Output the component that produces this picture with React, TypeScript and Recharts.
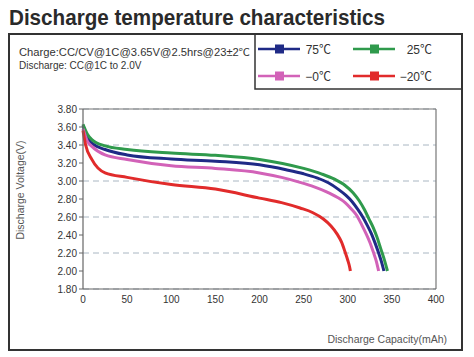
import { LineChart, Line, XAxis, YAxis, CartesianGrid, ReferenceLine } from "recharts";

// discharge capacity (mAh) / voltage (V)
const cap75 = [0, 5, 10, 25, 50, 100, 150, 200, 230, 250, 265, 278, 289, 298, 305, 311, 317, 322, 327, 331, 335, 338, 341];
const volt75 = [3.62, 3.48, 3.42, 3.35, 3.29, 3.245, 3.22, 3.18, 3.125, 3.08, 3.035, 2.98, 2.91, 2.84, 2.77, 2.69, 2.6, 2.51, 2.41, 2.31, 2.2, 2.11, 2.0];

const cap25 = [0, 5, 10, 25, 50, 100, 150, 200, 250, 270, 285, 297, 306, 313, 319, 324, 329, 333, 337, 341, 345];
const volt25 = [3.63, 3.52, 3.46, 3.39, 3.35, 3.31, 3.285, 3.24, 3.14, 3.08, 3.02, 2.95, 2.87, 2.78, 2.68, 2.58, 2.48, 2.38, 2.26, 2.14, 2.0];

const cap0 = [0, 5, 10, 25, 50, 100, 150, 200, 225, 246, 262, 276, 288, 297, 304, 310, 316, 321, 325, 329, 332, 335];
const volt0 = [3.58, 3.44, 3.385, 3.29, 3.24, 3.17, 3.14, 3.09, 3.04, 2.985, 2.935, 2.88, 2.82, 2.76, 2.69, 2.62, 2.51, 2.41, 2.32, 2.21, 2.12, 2.0];

const capM20 = [0, 3, 10, 25, 50, 100, 150, 200, 225, 246, 260, 272, 281, 288, 293, 297, 300, 302, 303];
const voltM20 = [3.56, 3.4, 3.24, 3.09, 3.04, 2.96, 2.91, 2.81, 2.76, 2.7, 2.65, 2.58, 2.5, 2.41, 2.32, 2.21, 2.12, 2.05, 2.0];

const xTicks = [0, 50, 100, 150, 200, 250, 300, 350, 400];
const yTicks = [1.8, 2.0, 2.2, 2.4, 2.6, 2.8, 3.0, 3.2, 3.4, 3.6, 3.8];

const toPoints = (c: number[], v: number[]) => c.map((x, i) => ({ cap: x, volt: v[i] }));

const series = [
  { label: "75", color: "#1f2a86", data: toPoints(cap75, volt75) },
  { label: "25", color: "#2f9a4c", data: toPoints(cap25, volt25) },
  { label: "−0", color: "#d262b8", data: toPoints(cap0, volt0) },
  { label: "−20", color: "#e12b2b", data: toPoints(capM20, voltM20) },
];

const font = "'Liberation Sans', Arial, sans-serif";
const cjk = "'Noto Sans CJK SC', sans-serif";

// legend slots inside the top-right box
const legendPos = [
  { x: 258, y: 49, end: 331 },
  { x: 353, y: 49, end: 432 },
  { x: 258, y: 76, end: 331 },
  { x: 353, y: 76, end: 432 },
];

const Celsius = () => <tspan fontFamily={cjk}>℃</tspan>;

export default function App() {
  return (
    <div style={{ position: "absolute", left: 0, top: 0, width: 474, height: 357, background: "#fff" }}>
      <LineChart
        width={474}
        height={357}
        margin={{ top: 109, right: 38, bottom: 38, left: 43 }}
        style={{ position: "absolute", left: 0, top: 0 }}
      >
        <CartesianGrid vertical={false} stroke="#a9b6c2" strokeDasharray="6 4" />
        <XAxis
          type="number"
          dataKey="cap"
          domain={[0, 400]}
          ticks={xTicks}
          allowDuplicatedCategory={false}
          height={30}
          tickLine={false}
          tickSize={4}
          tickMargin={3}
          axisLine={{ stroke: "#666", strokeWidth: 1.2 }}
          tick={{ fontSize: 10, fill: "#333", fontFamily: font }}
        />
        <YAxis
          type="number"
          dataKey="volt"
          domain={[1.8, 3.8]}
          ticks={yTicks}
          width={40}
          tickSize={4}
          tickLine={{ stroke: "#666" }}
          axisLine={{ stroke: "#666", strokeWidth: 1.2 }}
          tickFormatter={(v: number) => v.toFixed(2)}
          tick={{ fontSize: 10, fill: "#333", fontFamily: font }}
        />
        <ReferenceLine y={3.8} stroke="#777" strokeWidth={1.2} />
        <ReferenceLine x={400} stroke="#777" strokeWidth={1.2} />
        {series.map((s) => (
          <Line
            key={s.label}
            data={s.data}
            dataKey="volt"
            name={s.label}
            type="monotone"
            stroke={s.color}
            strokeWidth={3}
            dot={false}
            activeDot={false}
            isAnimationActive={false}
          />
        ))}
      </LineChart>
      <svg width={474} height={357} style={{ position: "absolute", left: 0, top: 0, pointerEvents: "none" }}>
        <text
          x={9}
          y={25}
          fontFamily={font}
          fontWeight="bold"
          fontSize={22}
          fill="#2a2a2a"
          textLength={376}
          lengthAdjust="spacingAndGlyphs"
        >
          Discharge temperature characteristics
        </text>
        <rect x={9} y={34} width={453} height={316} fill="none" stroke="#333" strokeWidth={2} />
        <rect x={255} y={34} width={207} height={55} fill="none" stroke="#333" strokeWidth={1.5} />
        <text x={19} y={56} fontFamily={font} fontSize={10} fill="#333" textLength={231} lengthAdjust="spacingAndGlyphs">
          Charge:CC/CV@1C@3.65V@2.5hrs@23±2<Celsius />
        </text>
        <text x={19} y={69} fontFamily={font} fontSize={10} fill="#333">
          Discharge: CC@1C to 2.0V
        </text>
        {series.map((s, i) => {
          const p = legendPos[i];
          return (
            <g key={s.label}>
              <line x1={p.x} x2={p.x + 42} y1={p.y} y2={p.y} stroke={s.color} strokeWidth={2.5} />
              <rect x={p.x + 17} y={p.y - 4.5} width={9} height={9} fill={s.color} />
              <text x={p.end} y={p.y + 5} textAnchor="end" fontFamily={font} fontSize={12} fill="#333">
                {s.label}
                <Celsius />
              </text>
            </g>
          );
        })}
        <text
          transform="translate(24 190) rotate(-90)"
          textAnchor="middle"
          fontFamily={font}
          fontSize={10.5}
          fill="#555"
        >
          Discharge Voltage(V)
        </text>
        <text x={447} y={343} textAnchor="end" fontFamily={font} fontSize={10.5} fill="#555">
          Discharge Capacity(mAh)
        </text>
      </svg>
    </div>
  );
}
